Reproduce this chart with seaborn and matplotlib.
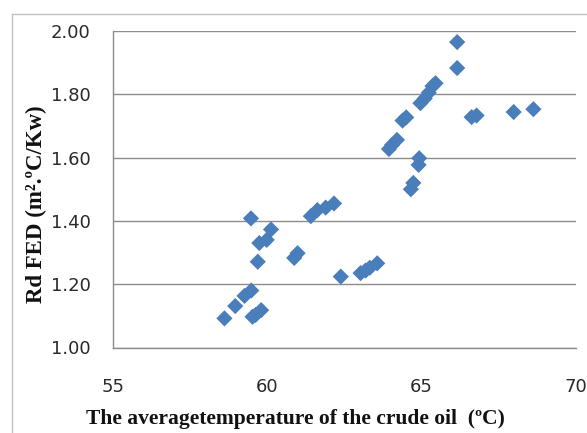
import matplotlib
matplotlib.use("Agg")
import matplotlib.pyplot as plt
from matplotlib.lines import Line2D
import seaborn as sns
import pandas as pd

# Average crude-oil temperature (°C) and fouling resistance Rd FED
temperature = [58.61, 58.96, 59.26, 59.48, 59.52, 59.62, 59.80,
               59.47, 60.12, 59.74, 59.98, 59.69,
               60.87, 60.98,
               61.41, 61.62, 61.89, 62.16,
               62.38, 63.02, 63.18, 63.32, 63.56,
               64.65, 64.73, 64.90, 64.92,
               63.94, 64.04, 64.20,
               64.38, 64.50,
               64.96, 65.10, 65.23, 65.35, 65.45,
               66.15, 66.15,
               66.62, 66.78,
               67.98, 68.62]
rd_fed = [1.092, 1.131, 1.163, 1.180, 1.097, 1.103, 1.118,
          1.408, 1.373, 1.330, 1.340, 1.271,
          1.283, 1.298,
          1.415, 1.434, 1.442, 1.455,
          1.224, 1.235, 1.243, 1.252, 1.266,
          1.500, 1.520, 1.577, 1.598,
          1.627, 1.640, 1.656,
          1.717, 1.727,
          1.772, 1.787, 1.805, 1.826, 1.835,
          1.965, 1.883,
          1.728, 1.733,
          1.744, 1.753]

x_ticks = [55, 60, 65, 70]
y_ticks = [1.00, 1.20, 1.40, 1.60, 1.80, 2.00]

df = pd.DataFrame({"temp": temperature, "rd": rd_fed})

sns.set_theme(style="white")
plt.rcParams["font.family"] = ["DejaVu Sans"]

fig = plt.figure(figsize=(5.87, 4.33), dpi=100)
ax = fig.add_axes([113 / 587, 85.5 / 433, (576 - 113) / 587, (347.5 - 31) / 433])

sns.scatterplot(data=df, x="temp", y="rd", marker="D", s=68,
                color="#4a7ebb", edgecolor="none", ax=ax, zorder=3)

ax.set_xlim(55, 70)
ax.set_ylim(1.0, 2.0)
ax.set_xticks(x_ticks)
ax.set_xticklabels([str(t) for t in x_ticks])
ax.set_yticks(y_ticks)
ax.set_yticklabels([f"{t:.2f}" for t in y_ticks])

ax.yaxis.grid(True, color="#8c8c8c", linewidth=1.0)
ax.xaxis.grid(False)
ax.set_axisbelow(True)
for side in ("top", "right"):
    ax.spines[side].set_visible(False)
for side in ("left", "bottom"):
    ax.spines[side].set_color("#8c8c8c")
    ax.spines[side].set_linewidth(1.0)

ax.tick_params(axis="x", which="major", direction="out", length=6, width=1,
               color="#8c8c8c", pad=16, labelsize=13, labelcolor="#2a2a2a")
ax.tick_params(axis="y", which="major", direction="out", length=6, width=1,
               color="#8c8c8c", pad=10, labelsize=13, labelcolor="#2a2a2a")
ax.set_xlabel("")
ax.set_ylabel("")

serif = ["Liberation Serif", "DejaVu Serif"]
fig.text(295 / 587, 1 - 419 / 433, "The averagetemperature of the crude oil  (ºC)",
         ha="center", va="center", fontsize=15.5, fontweight="bold",
         family=serif, color="#111111")
fig.text(36 / 587, 1 - 204 / 433, "Rd FED (m².ºC/Kw)",
         ha="center", va="center", rotation=90, fontsize=16.5,
         fontweight="bold", family=serif, color="#111111")

# Chart-area frame
border = "#bfbfbf"
fig.add_artist(Line2D([12 / 587, 1.0], [1 - 14 / 433, 1 - 14 / 433],
                      transform=fig.transFigure, color=border, linewidth=1.0))
fig.add_artist(Line2D([12 / 587, 12 / 587], [0.0, 1 - 14 / 433],
                      transform=fig.transFigure, color=border, linewidth=1.0))

fig.savefig("out.png", dpi=100)
